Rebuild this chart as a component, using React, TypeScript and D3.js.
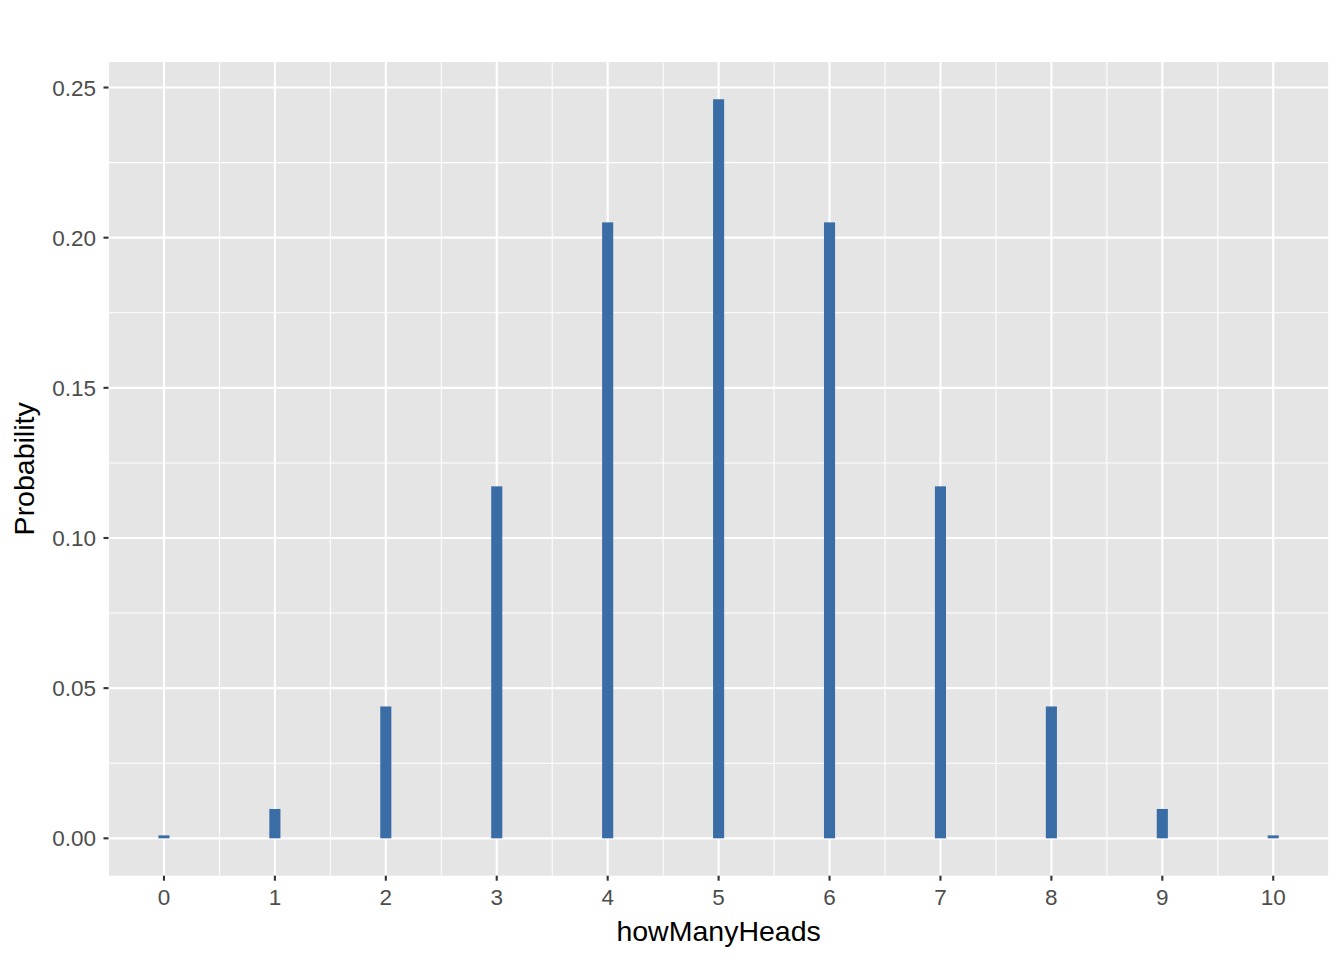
import React from "react";
import * as d3 from "d3";

const heads = [0, 1, 2, 3, 4, 5, 6, 7, 8, 9, 10];
const probability = [0.000977, 0.00977, 0.0439, 0.1172, 0.2051, 0.2461, 0.2051, 0.1172, 0.0439, 0.00977, 0.000977];
const xTicks = [0, 1, 2, 3, 4, 5, 6, 7, 8, 9, 10];
const yTicks = [0, 0.05, 0.1, 0.15, 0.2, 0.25];
const yTickLabels = ["0.00", "0.05", "0.10", "0.15", "0.20", "0.25"];

export default function App() {
  const W = 1344, H = 960;
  const L = 108.5, R = 1328.7, T = 62, B = 875.7;
  const x = d3.scaleLinear().domain([-0.5, 10.5]).range([L, R]);
  const y = d3.scaleLinear().domain([-0.01245, 0.2585]).range([B, T]);
  const barW = 0.1;
  const xMinor = d3.range(-0.5, 10.51, 1);
  const yMinor = [0.025, 0.075, 0.125, 0.175, 0.225];
  const font = "'Liberation Sans', Arial, Helvetica, sans-serif";
  return (
    <svg width={W} height={H} style={{ position: "absolute", left: 0, top: 0 }} fontFamily={font}>
      <rect x={0} y={0} width={W} height={H} fill="#fff" />
      <rect x={L} y={T} width={R - L} height={B - T} fill="#e5e5e5" />
      {yMinor.map((v) => (
        <line key={"ym" + v} x1={L} x2={R} y1={y(v)} y2={y(v)} stroke="#fff" strokeWidth={1.07} />
      ))}
      {xMinor.map((v) => (
        <line key={"xm" + v} x1={x(v)} x2={x(v)} y1={T} y2={B} stroke="#fff" strokeWidth={1.07} />
      ))}
      {yTicks.map((v) => (
        <line key={"yM" + v} x1={L} x2={R} y1={y(v)} y2={y(v)} stroke="#fff" strokeWidth={2.13} />
      ))}
      {xTicks.map((v) => (
        <line key={"xM" + v} x1={x(v)} x2={x(v)} y1={T} y2={B} stroke="#fff" strokeWidth={2.13} />
      ))}
      {heads.map((h, i) => (
        <rect
          key={"b" + h}
          x={x(h - barW / 2)}
          width={x(h + barW / 2) - x(h - barW / 2)}
          y={y(probability[i])}
          height={y(0) - y(probability[i])}
          fill="#3a6da6"
        />
      ))}
      {yTicks.map((v, i) => (
        <g key={"yt" + v}>
          <line x1={L - 5} x2={L} y1={y(v)} y2={y(v)} stroke="#333" strokeWidth={2.13} />
          <text x={L - 12.5} y={y(v)} dy="0.36em" textAnchor="end" fontSize={22.5} fill="#4d4d4d">
            {yTickLabels[i]}
          </text>
        </g>
      ))}
      {xTicks.map((v) => (
        <g key={"xt" + v}>
          <line x1={x(v)} x2={x(v)} y1={B} y2={B + 5} stroke="#333" strokeWidth={2.13} />
          <text x={x(v)} y={905} textAnchor="middle" fontSize={22.5} fill="#4d4d4d">
            {v}
          </text>
        </g>
      ))}
      <text x={(L + R) / 2} y={941} textAnchor="middle" fontSize={28.5} fill="#000">
        howManyHeads
      </text>
      <text
        transform={`translate(34, ${(T + B) / 2}) rotate(-90)`}
        textAnchor="middle"
        fontSize={28.5}
        fill="#000"
      >
        Probability
      </text>
    </svg>
  );
}
